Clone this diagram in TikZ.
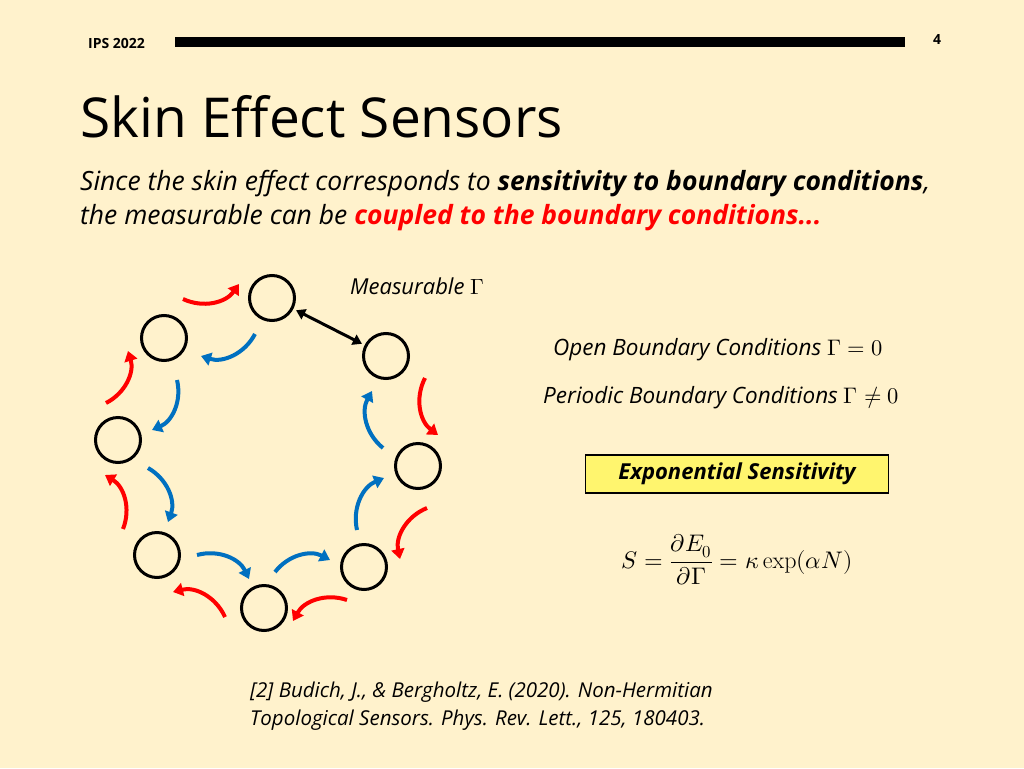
\documentclass[tikz,border=0pt]{standalone}
\usepackage{fontspec}
\usepackage{unicode-math}
\setmainfont{Open Sans}
\setmathfont{Latin Modern Math}
\newfontfamily\lmr{Latin Modern Roman}
\usetikzlibrary{arrows.meta}
\definecolor{bg}{RGB}{255,242,204}
\definecolor{rd}{RGB}{255,0,0}
\definecolor{bl}{RGB}{0,112,192}
\definecolor{bx}{RGB}{255,245,110}
\begin{document}
\begin{tikzpicture}[x=1pt,y=-1pt,
  site/.style={circle,draw=black,line width=3pt,minimum size=45pt,inner sep=0pt},
  ra/.style={draw=rd,line width=4pt,-{Triangle[length=10pt,width=13pt]},bend right=40},
  ba/.style={draw=bl,line width=4pt,-{Triangle[length=10pt,width=13pt]},bend left=40},
  txt/.style={anchor=west,inner sep=0pt}]
\fill[bg] (0,0) rectangle (1024,768);
\useasboundingbox (0,0) rectangle (1024,768);
\node[txt,font=\bfseries\fontsize{14}{16}\selectfont] (hdr) at (88,43) {IPS 2022};
\fill (175,37) rectangle (905,47);
\node[inner sep=0pt,font=\bfseries\fontsize{14}{16}\selectfont] (pg) at (937,40) {4};
\node[txt,font=\fontsize{55}{60}\selectfont] (title) at (80,117) {Skin Effect Sensors};
\node[txt,font=\itshape\fontsize{26.5}{30}\selectfont] (s1) at (80,184) {Since the skin effect corresponds to \textbf{sensitivity to boundary conditions},};
\node[txt,font=\itshape\fontsize{26.5}{30}\selectfont] (s2) at (80,218) {the measurable can be \textbf{\color{rd}coupled to the boundary conditions...}};
\node (n1) [site] at (272,298) {};
\node (n2) [site] at (164,338) {};
\node (n3) [site] at (386,356) {};
\node (n4) [site] at (118,440) {};
\node (n5) [site] at (418,466) {};
\node (n6) [site] at (157,555) {};
\node (n7) [site] at (364,567) {};
\node (n8) [site] at (264,608) {};
\coordinate (r1a) at (183,299); \coordinate (r1b) at (239,284);
\coordinate (r2a) at (106,403); \coordinate (r2b) at (128,351);
\coordinate (r3a) at (123,529); \coordinate (r3b) at (105,475);
\coordinate (r4a) at (225,617); \coordinate (r4b) at (173,592);
\coordinate (r5a) at (347,600); \coordinate (r5b) at (293,621);
\coordinate (r6a) at (427,508); \coordinate (r6b) at (400,559);
\coordinate (r7a) at (425,378); \coordinate (r7b) at (438,435);
\draw[ra] (r1a) to (r1b);
\draw[ra] (r2a) to (r2b);
\draw[ra] (r3a) to (r3b);
\draw[ra] (r4a) to (r4b);
\draw[ra] (r5a) to (r5b);
\draw[ra] (r6a) to (r6b);
\draw[ra] (r7a) to (r7b);
\coordinate (b1a) at (255,334); \coordinate (b1b) at (201,356);
\coordinate (b2a) at (177,380); \coordinate (b2b) at (152,430);
\coordinate (b3a) at (148,468); \coordinate (b3b) at (168,522);
\coordinate (b4a) at (197,555); \coordinate (b4b) at (249,579);
\coordinate (b5a) at (275,572); \coordinate (b5b) at (330,560);
\coordinate (b6a) at (357,530); \coordinate (b6b) at (384,478);
\coordinate (b7a) at (383,448); \coordinate (b7b) at (372,391);
\draw[ba] (b1a) to (b1b);
\draw[ba] (b2a) to (b2b);
\draw[ba] (b3a) to (b3b);
\draw[ba] (b4a) to (b4b);
\draw[ba] (b5a) to (b5b);
\draw[ba] (b6a) to (b6b);
\draw[ba] (b7a) to (b7b);
\draw[line width=3pt,{Triangle[length=9pt,width=11pt]}-{Triangle[length=9pt,width=11pt]},shorten <=3pt,shorten >=3pt] (n1) -- (n3);
\node[txt,font=\itshape\fontsize{22}{26}\selectfont] (meas) at (350,286) {Measurable $\Gamma$};
\node[txt,font=\itshape\fontsize{22.5}{26}\selectfont] (obc) at (553,350) {Open Boundary Conditions $\Gamma=0$};
\node[txt,font=\itshape\fontsize{22.5}{26}\selectfont] (pbc) at (543,398) {Periodic Boundary Conditions $\Gamma\neq0$};
\node[draw=black,line width=1.5pt,fill=bx,minimum width=303pt,minimum height=38pt,inner sep=0pt,font=\bfseries\itshape\fontsize{22}{26}\selectfont] (box) at (737,474) {Exponential Sensitivity};
\node[inner sep=0pt,font=\fontsize{24}{28}\selectfont] (eq) at (737,560) {$S=\dfrac{\partial E_0}{\partial\Gamma}=\kappa\,\text{\lmr exp}(\alpha N)$};
\node[txt,font=\itshape\fontsize{20.5}{24}\selectfont] (ref1) at (250,692) {[2] Budich, J., \& Bergholtz, E. (2020). Non-Hermitian};
\node[txt,font=\itshape\fontsize{20.5}{24}\selectfont] (ref2) at (250,720) {Topological Sensors. Phys. Rev. Lett., 125, 180403.};
\end{tikzpicture}
\end{document}
